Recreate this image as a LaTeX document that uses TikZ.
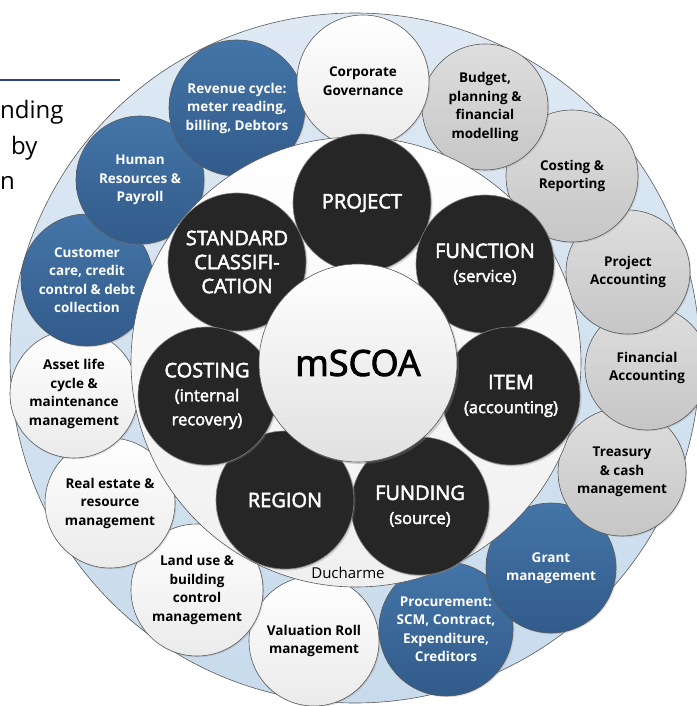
\documentclass[tikz,border=0pt]{standalone}
\usepackage{fontspec}
\setmainfont{Open Sans}
\newfontfamily\heavyfont[FakeBold=2.5]{Open Sans}
\usetikzlibrary{shadows}
\definecolor{ringtop}{RGB}{222,233,244}
\definecolor{ringbot}{RGB}{200,219,236}
\definecolor{bluetop}{RGB}{68,117,168}
\definecolor{bluebot}{RGB}{49,91,138}
\definecolor{greytop}{RGB}{222,222,222}
\definecolor{greybot}{RGB}{198,198,198}
\definecolor{darkfill}{RGB}{38,38,38}
\definecolor{rulecol}{RGB}{40,72,120}
\newcommand{\subline}[1]{{\fontsize{16.5}{22}\selectfont #1}}

\begin{document}
\begin{tikzpicture}[x=1pt,y=-1pt]
\tikzstyle{disc} = [circle, draw=black!65, line width=0.6pt, inner sep=0pt, align=center]
\tikzstyle{bubble} = [disc, font=\bfseries\fontsize{13.5}{18.5}\selectfont, drop shadow={opacity=0.25, shadow xshift=1.2pt, shadow yshift=-1.2pt}]
\tikzstyle{bluebub} = [bubble, top color=bluetop, bottom color=bluebot, text=white]
\tikzstyle{greybub} = [bubble, top color=greytop, bottom color=greybot]
\tikzstyle{whitebub} = [bubble, top color=white, bottom color=black!8]
\tikzstyle{segment} = [disc, fill=darkfill, draw=black!50, text=white, font=\heavyfont\fontsize{20}{24}\selectfont, minimum size=138, drop shadow={opacity=0.3, shadow xshift=1.5pt, shadow yshift=-1.5pt}]
\useasboundingbox (0,0) rectangle (696,706);

% slide text behind the figure
\coordinate (rule l) at (0,80);
\coordinate (rule r) at (120,80);
\draw[rulecol, line width=1.6pt] (rule l) -- (rule r);
\node[anchor=base west, inner sep=0pt, font=\fontsize{24}{28}\selectfont] (wordA) at (0,119) {nding};
\node[anchor=base west, inner sep=0pt, font=\fontsize{24}{28}\selectfont] (wordB) at (11,154) {by};
\node[anchor=base west, inner sep=0pt, font=\fontsize{24}{28}\selectfont] (wordC) at (0,189) {n};

% outer ring
\node[disc, minimum size=690, top color=ringtop, bottom color=ringbot] (ring) at (355,358) {};

% business processes
\node[whitebub, minimum size=130] (valuation) at (314,641) {Valuation Roll\\management};
\node[bluebub, minimum size=134] (procure) at (446,629) {Procurement:\\SCM, Contract,\\Expenditure,\\Creditors};
\node[bluebub, minimum size=130] (grant) at (551,568) {Grant\\management};
\node[greybub, minimum size=128] (treasury) at (622,472) {Treasury\\\& cash\\management};
\node[greybub, minimum size=124] (finacc) at (647,368) {Financial\\Accounting};
\node[greybub, minimum size=124] (projacc) at (628,272) {Project\\Accounting};
\node[greybub, minimum size=132] (costrep) at (572,176) {Costing \&\\Reporting};
\node[greybub, minimum size=126] (budget) at (485,107) {Budget,\\planning \&\\financial\\modelling};
\node[whitebub, minimum size=132] (landuse) at (197,590) {Land use \&\\building\\control\\management};
\node[whitebub, minimum size=130] (estate) at (110,503) {Real estate \&\\resource\\management};
\node[whitebub, minimum size=128] (asset) at (74,394) {Asset life\\cycle \&\\maintenance\\management};
\node[bluebub, minimum size=132] (customer) at (87,280) {Customer\\care, credit\\control \& debt\\collection};
\node[bluebub, minimum size=128] (human) at (140,180) {Human\\Resources \&\\Payroll};
\node[bluebub, minimum size=136] (revenue) at (237,108) {Revenue cycle:\\meter reading,\\billing, Debtors};
\node[whitebub, minimum size=132] (corporate) at (363,81) {Corporate\\Governance};

% inner disc with the seven segments
\node[disc, minimum size=450, top color=white, bottom color=black!6] (inner) at (356,362) {};
\node[segment] (standard) at (237,262) {STANDARD\\CLASSIFI-\\CATION};
\node[segment] (project) at (362,203) {PROJECT};
\node[segment] (function) at (485,264) {FUNCTION\\\subline{(service)}};
\node[segment] (item) at (511,396) {ITEM\\\subline{(accounting)}};
\node[segment] (funding) at (420,506) {FUNDING\\\subline{(source)}};
\node[segment] (region) at (285,500) {REGION};
\node[segment] (costing) at (207,396) {COSTING\\\subline{(internal}\\\subline{recovery)}};
\node[disc, minimum size=198, top color=white, bottom color=black!12, font=\heavyfont\fontsize{36}{40}\selectfont, drop shadow={opacity=0.35, shadow xshift=2pt, shadow yshift=-2pt}] (core) at (358,363) {mSCOA};
\node[font=\fontsize{15}{18}\selectfont] (credit) at (348,573) {Ducharme};
\end{tikzpicture}
\end{document}
